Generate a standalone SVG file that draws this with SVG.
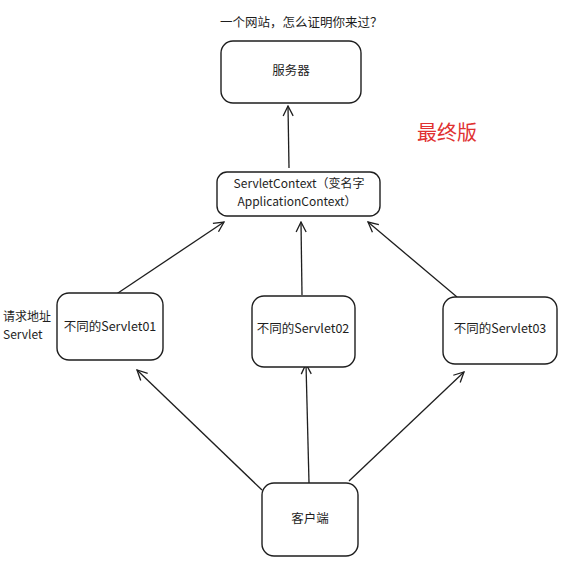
<svg xmlns="http://www.w3.org/2000/svg" width="575" height="565" viewBox="0 0 575 565">
<defs>
<style>
.box{fill:#fff;stroke:#1e1e1e;stroke-width:1.4}
.t{font-family:"Noto Sans CJK SC","Noto Sans",sans-serif;font-size:12.5px;fill:#1e1e1e}
.s{font-size:12px}
.c{text-anchor:middle}
.ln{stroke:#1e1e1e;stroke-width:1.3;fill:none;marker-end:url(#ah)}
</style>
<marker id="ah" viewBox="0 0 12 12" refX="11" refY="6" markerWidth="12" markerHeight="12" markerUnits="userSpaceOnUse" orient="auto">
<path d="M1,1 L11,6 L1,11" fill="none" stroke="#1e1e1e" stroke-width="1.3"/>
</marker>
</defs>
<rect width="575" height="565" fill="#fff"/>
<text class="t" x="220" y="27">一个网站，怎么证明你来过？</text>
<text x="417" y="140" font-family="Noto Sans CJK SC,sans-serif" font-size="20" fill="#e03131">最终版</text>
<text class="t s" x="3" y="321">请求地址</text>
<text class="t s" x="3" y="339">Servlet</text>
<g id="connectors">
<line class="ln" x1="289" y1="168" x2="288" y2="106"/>
<line class="ln" x1="115" y1="295" x2="224" y2="222"/>
<line class="ln" x1="302" y1="295" x2="301" y2="222"/>
<line class="ln" x1="457" y1="297" x2="368" y2="222"/>
<line class="ln" x1="262" y1="490" x2="137" y2="370"/>
<line class="ln" x1="309" y1="483" x2="306" y2="364"/>
<line class="ln" x1="349" y1="481" x2="464" y2="372"/>
</g>
<g id="server">
<rect class="box" x="221" y="41" width="140" height="62" rx="12"/>
<text class="t c" x="291" y="75">服务器</text>
</g>
<g id="context">
<rect class="box" x="217" y="172" width="163" height="44" rx="10"/>
<text class="t s c" x="299" y="188">ServletContext（变名字</text>
<text class="t s c" x="297" y="206">ApplicationContext）</text>
</g>
<g id="servlet01">
<rect class="box" x="57" y="293" width="106" height="67" rx="12"/>
<text class="t c" x="110" y="331">不同的Servlet01</text>
</g>
<g id="servlet02">
<rect class="box" x="252" y="296" width="103" height="71" rx="12"/>
<text class="t c" x="303" y="333">不同的Servlet02</text>
</g>
<g id="servlet03">
<rect class="box" x="443" y="297" width="114" height="67" rx="12"/>
<text class="t c" x="500" y="333">不同的Servlet03</text>
</g>
<g id="client">
<rect class="box" x="262" y="483" width="96" height="73" rx="12"/>
<text class="t c" x="310" y="523">客户端</text>
</g>
</svg>
